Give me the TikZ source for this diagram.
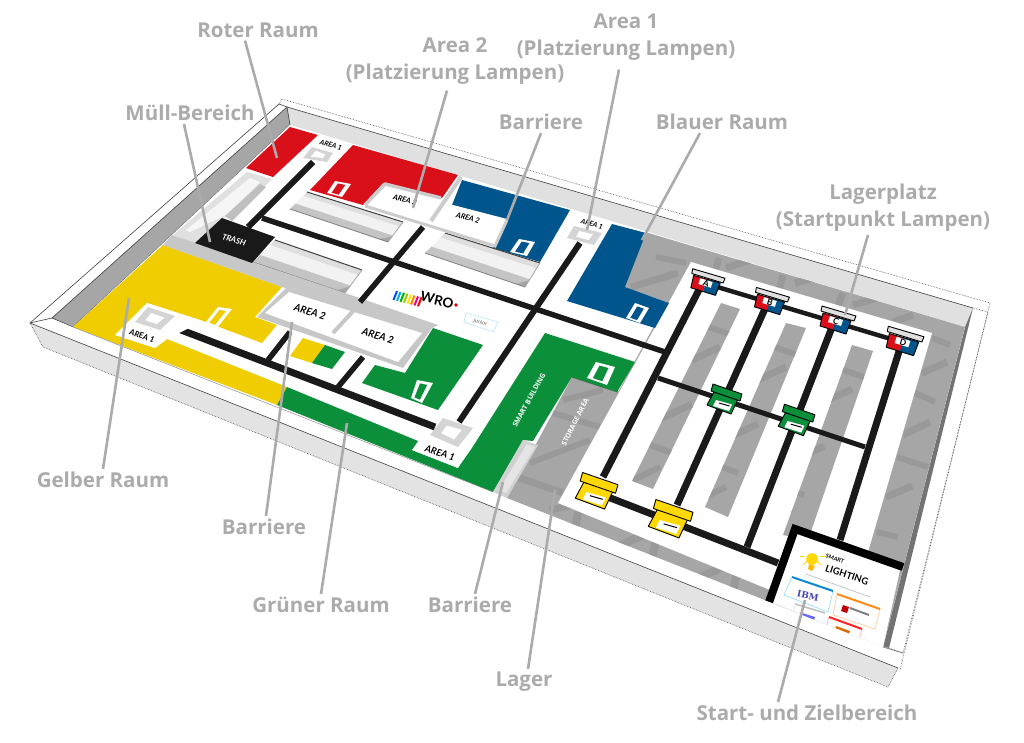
\documentclass[tikz,border=0pt]{standalone}
\usepackage{fontspec}
\setmainfont{Open Sans}
\newfontfamily\arfont{Lato}
\newfontfamily\ibmfont{DejaVu Serif}
\usetikzlibrary{calc}
\definecolor{wred}{HTML}{D9101A}
\definecolor{wblue}{HTML}{00568C}
\definecolor{wyellow}{HTML}{F0CD00}
\definecolor{wgreen}{HTML}{0C8F3A}
\definecolor{wblack}{HTML}{1A1A1A}
\definecolor{floorg}{HTML}{A6A6A6}
\definecolor{bandg}{HTML}{999999}
\definecolor{leaderg}{HTML}{ABABAB}
\definecolor{boxyellow}{HTML}{FFD800}
\tikzset{
  thin frame/.style={draw=black!75,line width=.6pt},
  dot frame/.style={draw=black!70,line width=.6pt,densely dotted},
  track/.style={draw=wblack,line width=#1},
  band/.style={draw=bandg,line width=#1},
  leader/.style={draw=leaderg,line width=2.6pt},
  caption/.style={text=leaderg,font=\fontsize{20.5}{27}\selectfont\bfseries,align=center,inner sep=0pt},
  arealabel/.style={font=\arfont\bfseries\itshape\fontsize{#1}{#1}\selectfont,text=black,rotate=-17,inner sep=0pt},
  arealabel/.default=8,
  boxline/.style={draw=black,line width=.9pt,line join=round},
}
\newcommand\doorshape[5]{%
  \fill[white] #1 -- #2 -- #3 -- #4 -- cycle;
  \fill[#5] ($($#1!0.25!#2$)!0.14!($#4!0.25!#3$)$) -- ($($#1!0.72!#2$)!0.14!($#4!0.72!#3$)$) -- ($($#1!0.72!#2$)!0.9!($#4!0.72!#3$)$) -- ($($#1!0.25!#2$)!0.9!($#4!0.25!#3$)$) -- cycle;}
\newcommand\areamark[4]{%
  \fill[black!17] #1 -- #2 -- #3 -- #4 -- cycle;
  \fill[white] ($#1!0.26!#3$) -- ($#2!0.26!#4$) -- ($#3!0.26!#1$) -- ($#4!0.26!#2$) -- cycle;}
\newcommand\shelfshape[4]{%
  \fill[black!5] #1 -- #2 -- #3 -- #4 -- cycle;
  \fill[black!13] #1 -- #2 -- ($#2!0.22!#3$) -- ($#1!0.22!#4$) -- cycle;
  \fill[black!23] ($#1!0.68!#4$) -- ($#2!0.68!#3$) -- #3 -- #4 -- cycle;
  \fill[black!35] ($#2!0.72!#3$) -- #3 -- ($#3!0.09!#4$) -- cycle;
  \draw[black!75,line width=1pt] #1 -- #2;
  \draw[black!50,line width=.8pt] #4 -- #3;
  \draw[black!35,line width=.8pt] #2 -- #3;}
\newcommand\crate[4]{%
  \begin{scope}[shift={(#1,#2)},scale=#3]
    \filldraw[fill=#4,boxline] (-10,-8) -- (14,-1) -- (7,14) -- (-17,5) -- cycle;
    \filldraw[fill=#4,boxline] (-11,-16) -- (18,-6) -- (16,1) -- (-13,-9) -- cycle;
    \fill[white] (-8,0) -- (8,4.5) -- (5,11) -- (-11,6) -- cycle;
    \draw[black,line width=1pt] (-5,3) -- (5.5,6);
  \end{scope}}
\newcommand\lampcrate[5]{%
  \begin{scope}[shift={(#1,#2)},scale=#3]
    \fill[wred] (-13,-8) -- (1,-4) -- (-3,9) -- (-16,5) -- cycle;
    \fill[wblue] (1,-4) -- (15,0) -- (10,13) -- (-3,9) -- cycle;
    \draw[boxline] (-13,-8) -- (15,0) -- (10,13) -- (-16,5) -- cycle;
    \filldraw[fill=black!12,boxline] (-14,-15) -- (20,-5) -- (18,0) -- (-15,-10) -- cycle;
    \fill[white] (-6,-5) -- (7,-1) -- (5,5) -- (-8,1) -- cycle;
  \end{scope}
  \node[#5,font=\arfont\bfseries\fontsize{8.5}{8.5}\selectfont,rotate=-17,inner sep=0pt] at (#1,#2) {#4};}
\newcommand\laneshape[6]{%
  \begin{scope}
    \fill[floorg] #1 -- #2 -- #3 -- #4 -- cycle;
    \clip #1 -- #2 -- #3 -- #4 -- cycle;
    \begin{scope}[shift={(#5,#6)}]
      \draw[band=6pt] (705,326) -- (732,335);
      \draw[band=7pt] (692,360) -- (720,347);
      \draw[band=7pt] (660,419) -- (692,404);
      \draw[band=6pt] (648,444) -- (672,453);
      \draw[band=6pt] (633,480) -- (660,467);
      \draw[band=6pt] (618,518) -- (645,510);
    \end{scope}
  \end{scope}}
\begin{document}
\begin{tikzpicture}[x=1pt,y=-1pt,line join=miter]
\useasboundingbox (0,0) rectangle (1024,742);
\fill[white] (0,0) rectangle (1024,742);

% tray: outer faces and walls
\fill[black!11] (30,323) -- (898,668) -- (888,687) -- (43,347) -- cycle;
\draw[dot frame] (43,347) -- (888,687) -- (898,668);
\draw[dot frame] (30,323) -- (43,347);
\fill[white] (30,323) -- (279,104) -- (287,107) -- (52,318) -- cycle;
\draw[thin frame] (30,323) -- (279,104) -- (287,107);
\draw[dot frame] (279,104) -- (282,99) -- (990,303) -- (900,670);
\draw[dot frame] (973,308) -- (988,312) -- (903,653) -- (883,646);
\fill[black!12] (287,107) -- (973,308) -- (965,327) -- (290,125) -- cycle;
\draw[thin frame] (287,107) -- (973,308);
\fill[black!35] (52,318) -- (287,107) -- (290,125) -- (73,327) -- cycle;
\draw[thin frame] (52,318) -- (287,107) -- (290,125) -- (73,327) -- cycle;
\fill[black!55] (973,308) -- (965,327) -- (883,646) -- (889,648) -- cycle;

% mat
\fill[white] (73,327) -- (290,125) -- (965,327) -- (883,647) -- cycle;

% grey floor with its pattern
\begin{scope}
  \fill[floorg] (645,232) -- (965,327) -- (883,647) -- (507,498) -- (572,377) -- (618,392) -- (667,302) -- (625,287) -- cycle;
  \clip (645,232) -- (965,327) -- (883,647) -- (507,498) -- (572,377) -- (618,392) -- (667,302) -- (625,287) -- cycle;
  \draw[band=6pt] (563,400) -- (603,390);
  \draw[band=6pt] (553,413) -- (600,427);
  \draw[band=6pt] (530,463) -- (590,440);
  \draw[band=7pt] (517,477) -- (563,493);
  \draw[band=7pt] (550,510) -- (572,505);
  \draw[band=8pt] (578,512) -- (575,530);
  \draw[band=8pt] (617,547) -- (643,535);
  \draw[band=8pt] (656,540) -- (652,560);
  \draw[band=8pt] (698,578) -- (728,565);
  \draw[band=8pt] (737,572) -- (733,592);
  \draw[band=7pt] (838,305) -- (843,293);
  \draw[band=7pt] (853,305) -- (877,298);
  \draw[band=7pt] (893,322) -- (913,315);
  \draw[band=6pt] (932,338) -- (950,345);
  \draw[band=7pt] (922,373) -- (947,362);
  \draw[band=6pt] (915,393) -- (935,402);
  \draw[band=7pt] (903,435) -- (930,422);
  \draw[band=6pt] (897,457) -- (928,467);
  \draw[band=7pt] (886,497) -- (912,486);
  \draw[band=6pt] (877,532) -- (898,537);
  \draw[band=6pt] (656,257) -- (686,263);
  \draw[band=7pt] (631,287) -- (678,273);
  \draw[band=7pt] (719,258) -- (715,272);
  \draw[band=7pt] (726,268) -- (759,257);
  \draw[band=7pt] (783,275) -- (779,290);
  \draw[band=7pt] (795,283) -- (832,273);
\end{scope}
\draw[black!60,line width=1.2pt] (572,377) -- (618,392);
\fill[white] (691,262) -- (932,333) -- (868,552) -- (792,525) -- (770,590) -- (558,503) -- cycle;
\laneshape{(721,303)}{(740,309)}{(653,489)}{(632,481)}{0}{0}
\laneshape{(786,323)}{(806,328)}{(728,517)}{(705,507)}{66}{20}
\laneshape{(852,345)}{(873,351)}{(808,540)}{(783,535)}{132}{42}

% coloured rooms
\fill[wred] (290,127) -- (318,135) -- (273,177) -- (246,168) -- cycle;
\fill[wred] (353,145) -- (458,175) -- (442,198) -- (383,183) -- (363,205) -- (310,190) -- cycle;
\doorshape{(335,181)}{(351,184)}{(342,197)}{(327,193)}{wred}
\fill[wblue] (462,180) -- (570,210) -- (540,262) -- (493,248) -- (507,220) -- (452,205) -- cycle;
\doorshape{(519,239)}{(535,242)}{(527,256)}{(510,252)}{wblue}
\fill[wblue] (612,224) -- (646,233) -- (625,287) -- (669,303) -- (655,328) -- (567,301) -- cycle;
\doorshape{(635,303)}{(649,308)}{(640,323)}{(626,318)}{wblue}
\fill[wyellow] (73,327) -- (163,245) -- (282,287) -- (255,317) -- (277,325) -- (262,343) -- (203,321) -- (147,303) -- (115,335) -- (155,348) -- (167,339) -- (287,387) -- (277,405) -- cycle;
\doorshape{(218,307)}{(232,309)}{(217,328)}{(205,323)}{wyellow}
\fill[wyellow] (303,338) -- (325,345) -- (312,363) -- (290,356) -- cycle;
\fill[wgreen] (325,345) -- (345,352) -- (332,369) -- (312,363) -- cycle;
\fill[wgreen] (433,328) -- (483,345) -- (438,410) -- (362,383) -- (375,365) -- (405,373) -- cycle;
\doorshape{(417,380)}{(433,383)}{(422,403)}{(411,398)}{wgreen}
\fill[wgreen] (277,405) -- (287,387) -- (418,441) -- (412,450) -- (458,468) -- (472,448) -- (545,333) -- (635,362) -- (617,392) -- (572,377) -- (533,441) -- (523,440) -- (493,492) -- cycle;
\doorshape{(596,362)}{(615,367)}{(607,385)}{(587,378)}{wgreen}

% barrier on the green arm
\fill[black!18] (523,440) -- (538,445) -- (507,498) -- (493,492) -- cycle;
\fill[black!10] (527,444) -- (535,447) -- (506,493) -- (499,490) -- cycle;

% shelves and bins
\shelfshape{(307,192)}{(403,222)}{(388,242)}{(290,209)}
\shelfshape{(445,233)}{(540,263)}{(525,287)}{(425,253)}
\shelfshape{(275,240)}{(362,270)}{(345,293)}{(253,262)}
\fill[black!12] (247,172) -- (272,179) -- (236,215) -- (222,218) -- (195,243) -- (173,235) -- cycle;
\fill[black!4] (250,178) -- (260,182) -- (228,214) -- (190,232) -- (186,230) -- cycle;
\fill[black!25] (260,184) -- (266,187) -- (232,221) -- (225,216) -- cycle;
\fill[black!22] (163,245) -- (172,235) -- (345,293) -- (438,325) -- (432,328) -- (282,287) -- cycle;
\fill[black!90] (222,218) -- (275,237) -- (252,263) -- (195,243) -- cycle;
\node[arealabel,text=white] (trash) at (234,240) {TRASH};

% black tracks
\draw[track=6pt] (313,162) -- (248,227);
\draw[track=5.5pt] (262,218) -- (665,352);
\draw[track=5.5pt] (423,227) -- (360,302);
\draw[track=5.5pt] (363,357) -- (338,387);
\draw[track=5.5pt] (290,332) -- (268,360);
\draw[track=7pt] (168,325) -- (435,427);
\draw[track=6pt] (580,243) -- (459,422);
\draw[track=7pt] (704,280) -- (603,477);
\draw[track=7pt] (768,302) -- (677,505);
\draw[track=7pt] (834,322) -- (747,547);
\draw[track=7pt] (901,345) -- (840,540);
\draw[track=4.5pt] (704,283) -- (901,342);
\draw[track=5pt] (658,378) -- (865,447);
\draw[track=7pt] (595,492) -- (778,563);

% area boxes
\areamark{(312,147)}{(333,153)}{(327,162)}{(303,158)}
\node[arealabel=7] (a1r) at (331,145) {AREA 1};
\areamark{(574,226)}{(602,233)}{(594,245)}{(567,238)}
\node[arealabel=7] (a1b) at (592,224) {AREA 1};
\fill[white] (147,303) -- (203,321) -- (167,339) -- (155,348) -- (115,335) -- cycle;
\areamark{(148,307)}{(175,316)}{(160,330)}{(135,322)}
\node[arealabel=8] (a1y) at (142,336) {AREA 1};
\fill[white] (443,422) -- (473,432) -- (458,468) -- (412,450) -- cycle;
\areamark{(443,418)}{(473,428)}{(458,447)}{(430,435)}
\node[arealabel=9.5] (a1g) at (440,453) {AREA 1};
\fill[white] (387,185) -- (438,198) -- (428,218) -- (372,202) -- cycle;
\fill[white] (453,205) -- (507,219) -- (492,241) -- (432,222) -- cycle;
\draw[black!20,line width=3.5pt,line join=round] (365,205) -- (385,184) -- (441,198);
\draw[black!20,line width=4pt] (461,177) -- (431,221);
\draw[black!20,line width=3pt] (365,206) -- (495,246) -- (507,220);
\node[arealabel=7.5] (a2r) at (405,200) {AREA 2};
\node[arealabel=7.5] (a2b) at (468,218) {AREA 2};
\fill[black!22] (257,317) -- (287,287) -- (432,328) -- (403,368) -- cycle;
\fill[white] (265,313) -- (289,292) -- (422,333) -- (398,362) -- cycle;
\draw[black!22,line width=4pt] (355,309) -- (333,333);
\node[arealabel=10] (a2y) at (310,312) {AREA 2};
\node[arealabel=10] (a2g) at (378,336) {AREA 2};

% building labels
\node[text=white,font=\bfseries\fontsize{7}{8}\selectfont,rotate=61,inner sep=0pt] (smartb) at (529,400) {SMART BUILDING};
\node[text=white,font=\bfseries\fontsize{7}{8}\selectfont,rotate=63,inner sep=0pt] (storage) at (575,422) {STORAGE AREA};

% crates
\lampcrate{706}{283}{.95}{A}{}
\lampcrate{770}{302}{.97}{B}{}
\lampcrate{836}{321}{1}{C}{}
\lampcrate{903}{342}{1.05}{D}{}
\crate{724}{400}{1}{wgreen}
\crate{796}{421}{1.05}{wgreen}
\crate{596}{492}{1.22}{boxyellow}
\crate{670}{520}{1.28}{boxyellow}

% logos
\foreach \i/\c in {0/blue!70!cyan,1/cyan,2/green!70!black,3/lime!80!black,4/yellow!85!orange,5/orange,6/magenta,7/red}{
  \draw[\c,line width=2pt] (393.5+3.5*\i,300+.9*\i) -- (397+3.5*\i,291+.9*\i);
}
\node[font=\arfont\bfseries\fontsize{13.5}{13.5}\selectfont,rotate=-13,inner sep=0pt] (wro) at (437,300) {WRO};
\fill[red!85!black] (456,305) circle (1.8pt);
\draw[cyan!25,line width=.7pt] (466,313) -- (498,322) -- (493,332) -- (464,322) -- cycle;
\node[text=black!60,font=\arfont\fontsize{5.5}{6}\selectfont,rotate=-14,inner sep=0pt] (junior) at (480,322) {Junior};

% start and finish panel
\fill[white] (797,533) -- (900,570) -- (883,647) -- (773,603) -- cycle;
\draw[draw=black,line width=8pt] (903,567) -- (795,529) -- (769,602);
\foreach \a/\l in {90/5,45/5,0/5,135/5,180/5}{\draw[boxyellow,line width=1pt] (812,556) ++(\a:7.5) -- ++(\a:\l);}
\fill[boxyellow] (812,559) circle (5.8pt);
\fill[boxyellow!70!orange] (809,564) -- (815,566) -- (812,571) -- (808,569) -- cycle;
\node[font=\arfont\bfseries\fontsize{5.5}{6}\selectfont,rotate=-19,inner sep=0pt] (smart) at (835,559) {SMART};
\node[font=\arfont\bfseries\fontsize{9.5}{10}\selectfont,rotate=-18,inner sep=0pt] (lighting) at (847,575) {LIGHTING};
\draw[black!25,line width=.7pt] (806,574) -- (870,597);
\draw[cyan!35,line width=.8pt] (792,577) -- (833,591) -- (828,612) -- (784,595) -- cycle;
\draw[cyan!70!blue,line width=2pt] (792,577) -- (833,591);
\node[text=blue!45!gray,font=\ibmfont\bfseries\fontsize{9}{9}\selectfont,rotate=-12,inner sep=0pt] (ibm) at (808,596) {IBM};
\draw[orange!35,line width=.8pt] (837,594) -- (880,609) -- (875,629) -- (833,615) -- cycle;
\draw[orange!90,line width=2pt] (837,594) -- (880,609);
\fill[red!75!black] (843,605) -- (849,607) -- (847,613) -- (841,611) -- cycle;
\draw[black!50,line width=2pt] (850,608) -- (869,615);
\draw[black!25,line width=1.6pt] (795,604) -- (825,613);
\draw[black!10,line width=.7pt] (795,604) -- (793,618);
\fill[blue!60] (802,613) -- (815,617) -- (814,620) -- (801,616) -- cycle;
\draw[red!25,line width=.8pt] (829,617) -- (862,629) -- (859,640);
\draw[red!25,line width=.8pt] (829,617) -- (826,628);
\draw[red!85,line width=2pt] (829,617) -- (862,629);
\fill[orange!85!black] (836,626) -- (850,631) -- (849,634) -- (835,629) -- cycle;

% front rim on top of the floor
\fill[white] (52,319) -- (883,647) -- (903,653) -- (898,668) -- (30,323) -- cycle;
\draw[thin frame] (30,323) -- (898,668);
\draw[black!45,line width=.5pt] (73,327) -- (493,492);
\draw[black!60,line width=.6pt] (883,647) -- (903,653);
\draw[thin frame] (52,318) -- (30,323);

% captions
\node[caption] (roter) at (258,30) {Roter Raum};
\node[caption] (area2) at (455,61) {Area 2\\(Platzierung Lampen)};
\node[caption] (area1) at (626,37) {Area 1\\(Platzierung Lampen)};
\node[caption] (muell) at (190,113) {Müll-Bereich};
\node[caption] (barr1) at (541,122) {Barriere};
\node[caption] (blau) at (722,122) {Blauer Raum};
\node[caption] (lagerpl) at (883,208) {Lagerplatz\\(Startpunkt Lampen)};
\node[caption] (gelb) at (103,480) {Gelber Raum};
\node[caption] (barr2) at (264,527) {Barriere};
\node[caption] (gruen) at (321,605) {Grüner Raum};
\node[caption] (barr3) at (470,605) {Barriere};
\node[caption] (lager) at (524,682) {Lager};
\node[caption] (startz) at (807,713) {Start- und Zielbereich};

\coordinate (endroter) at (277,158);
\coordinate (endarea2) at (413,208);
\coordinate (endarea1) at (587,230);
\coordinate (endmuell) at (210,242);
\coordinate (endbarr1) at (507,220);
\coordinate (endblau) at (642,240);
\coordinate (endlager) at (845,315);
\coordinate (endgelb) at (129,298);
\coordinate (endbarr2) at (292,322);
\coordinate (endgruen) at (347,423);
\coordinate (endbarr3) at (503,482);
\coordinate (endlagerr) at (555,490);
\coordinate (endstart) at (805,600);
\draw[leader] ([xshift=-13pt,yshift=-3pt]roter.south) -- (endroter);
\draw[leader] ([xshift=-8pt,yshift=-6pt]area2.south) -- (endarea2);
\draw[leader] ([xshift=-7pt,yshift=-9pt]area1.south) -- (endarea1);
\draw[leader] ([xshift=-6pt,yshift=-3pt]muell.south) -- (endmuell);
\draw[leader] ([yshift=-3pt]barr1.south) -- (endbarr1);
\draw[leader] ([xshift=-22pt,yshift=-3pt]blau.south) -- (endblau);
\draw[leader] ([xshift=-15pt,yshift=-3pt]lagerpl.south) -- (endlager);
\draw[leader] ([yshift=3pt]gelb.north) -- (endgelb);
\draw[leader] ([xshift=2pt,yshift=3pt]barr2.north) -- (endbarr2);
\draw[leader] ([yshift=3pt]gruen.north) -- (endgruen);
\draw[leader] ([xshift=5pt,yshift=3pt]barr3.north) -- (endbarr3);
\draw[leader] ([xshift=4pt,yshift=3pt]lager.north) -- (endlagerr);
\draw[leader] ([xshift=-29pt,yshift=3pt]startz.north) -- (endstart);
\end{tikzpicture}
\end{document}
